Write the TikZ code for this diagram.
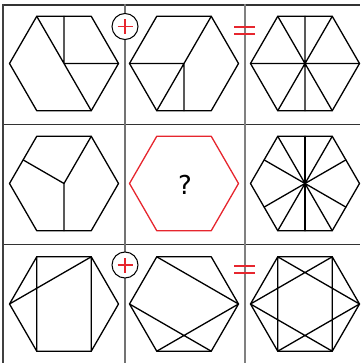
\documentclass[tikz,border=0pt]{standalone}
\usepackage{fontspec}
\newfontfamily\qfont{DejaVu Sans}
\definecolor{myred}{RGB}{230,38,46}
\newcommand\defhex[3]{%
  \coordinate (#1O) at (#2,#3);
  \coordinate (#1A) at (#2-54.5,#3);
  \coordinate (#1B) at (#2-27.25,#3-47.2);
  \coordinate (#1C) at (#2+27.25,#3-47.2);
  \coordinate (#1D) at (#2+54.5,#3);
  \coordinate (#1E) at (#2+27.25,#3+47.2);
  \coordinate (#1F) at (#2-27.25,#3+47.2);
  \coordinate (#1T) at (#2,#3-47.2);
  \coordinate (#1U) at (#2,#3+47.2);
  \coordinate (#1ab) at (#2-40.875,#3-23.6);
  \coordinate (#1cd) at (#2+40.875,#3-23.6);
  \coordinate (#1de) at (#2+40.875,#3+23.6);
  \coordinate (#1fa) at (#2-40.875,#3+23.6);
}
\begin{document}
\begin{tikzpicture}[x=1pt,y=-1pt,
  hexline/.style={line width=1.3pt, line join=round, line cap=round},
  gridline/.style={line width=1.2pt, black!80},
  sepline/.style={line width=1.5pt, black!55},
  opcircle/.style={circle, draw=black, line width=1pt, fill=white, minimum size=26pt, inner sep=0pt},
  opmark/.style={line width=1.7pt, myred}]
\useasboundingbox (0,0) rectangle (360,363);
% grid
\draw[gridline, line width=1.8pt] (3,4.7) -- (360,4.7);
\draw[gridline] (3,124.7) -- (360,124.7);
\draw[gridline] (3,244.7) -- (360,244.7);
\draw[line width=2pt, black!75] (3,4) -- (3,363);
\draw[sepline] (125,4) -- (125,363);
\draw[sepline, black!50] (245,4) -- (245,363);
% hexagon coordinates
\defhex{a}{64}{63.5}
\defhex{b}{184}{63.5}
\defhex{c}{305}{63.5}
\defhex{d}{64}{183.5}
\defhex{e}{184}{183.5}
\defhex{f}{305}{183.5}
\defhex{g}{64}{304}
\defhex{h}{184}{304}
\defhex{i}{305}{304}
% hexagon outlines
\foreach \n in {a,b,c,d,f,g,h,i}
  \draw[hexline] (\n A) -- (\n B) -- (\n C) -- (\n D) -- (\n E) -- (\n F) -- cycle;
\draw[hexline, myred] (eA) -- (eB) -- (eC) -- (eD) -- (eE) -- (eF) -- cycle;
\node[font=\qfont\fontsize{26}{26}\selectfont] (q) at (185,185) {?};
% row 1
\draw[hexline] (aB) -- (aE) (aT) -- (aO) -- (aD);
\draw[hexline] (bC) -- (bF) (bA) -- (bO) -- (bU);
\draw[hexline] (cB) -- (cE) (cC) -- (cF) (cA) -- (cD) (cT) -- (cU);
% row 2
\draw[hexline] (dO) -- (dC) (dO) -- (dab) (dO) -- (dU);
\foreach \p in {B,C,E,F,T,U,ab,cd,de,fa}
  \draw[hexline] (fO) -- (f\p);
% row 3
\draw[hexline] (gB) -- (gF) (gC) -- (gE) (gA) -- (gC);
\draw[hexline] (hB) -- (hD) (hA) -- (hE) (hF) -- (hD);
\draw[hexline] (iB) -- (iF) (iC) -- (iE) (iA) -- (iC) (iB) -- (iD) (iA) -- (iE) (iF) -- (iD);
% operators
\node[opcircle] (p1) at (125,26.5) {};
\draw[opmark] ([xshift=-7.5pt]p1.center) -- ([xshift=7.5pt]p1.center)
  ([yshift=-7.5pt]p1.center) -- ([yshift=7.5pt]p1.center);
\node[opcircle] (p2) at (125,265) {};
\draw[opmark] ([xshift=-7.5pt]p2.center) -- ([xshift=7.5pt]p2.center)
  ([yshift=-7.5pt]p2.center) -- ([yshift=7.5pt]p2.center);
\coordinate (e1) at (245,30.7);
\draw[opmark, line width=2.2pt] ([shift={(-11,-3.4)}]e1) -- ([shift={(10,-3.4)}]e1)
  ([shift={(-11,3.4)}]e1) -- ([shift={(10,3.4)}]e1);
\coordinate (e2) at (245,269.3);
\draw[opmark, line width=2.2pt] ([shift={(-11,-3.4)}]e2) -- ([shift={(10,-3.4)}]e2)
  ([shift={(-11,3.4)}]e2) -- ([shift={(10,3.4)}]e2);
\end{tikzpicture}
\end{document}
